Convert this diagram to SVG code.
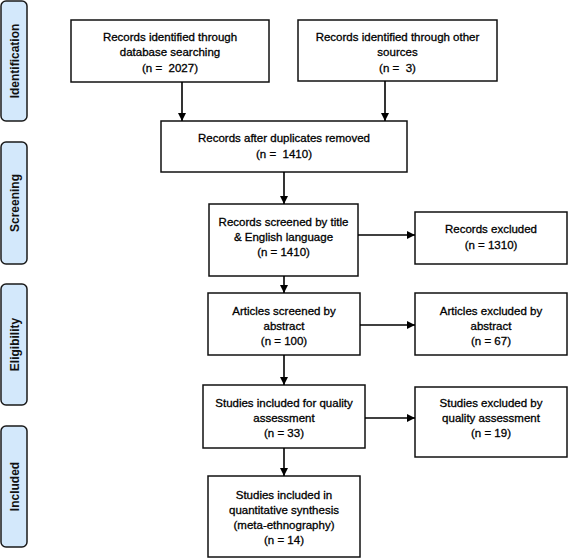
<svg xmlns="http://www.w3.org/2000/svg" width="568" height="558" viewBox="0 0 568 558">
<defs>
<marker id="ah" viewBox="0 0 10 10" refX="10" refY="5" markerWidth="5" markerHeight="5" orient="auto" markerUnits="strokeWidth">
<path d="M0,0 L10,5 L0,10 Z" fill="#000"/>
</marker>
<style>
.box{fill:#fff;stroke:#111;stroke-width:1.5}
.side{fill:#d3e8fb;stroke:#1a1a1a;stroke-width:1.5}
.t{font-family:"Liberation Sans",Arial,sans-serif;font-size:11.5px;fill:#000;stroke:#000;stroke-width:0.3;text-anchor:middle;white-space:pre}
.s{font-family:"Liberation Sans",Arial,sans-serif;font-size:12px;font-weight:bold;fill:#111;text-anchor:middle}
.c{stroke:#000;stroke-width:1.6;fill:none;marker-end:url(#ah)}
</style>
</defs>
<rect width="568" height="558" fill="#fff"/>
<g id="stage-identification"><rect class="side" x="1" y="1" width="26" height="120" rx="5"/><text class="s" transform="translate(18.5,61) rotate(-90)">Identification</text></g>
<g id="stage-screening"><rect class="side" x="1" y="142" width="26" height="122" rx="5"/><text class="s" transform="translate(18.5,203) rotate(-90)">Screening</text></g>
<g id="stage-eligibility"><rect class="side" x="1" y="284" width="26" height="121" rx="5"/><text class="s" transform="translate(18.5,344.5) rotate(-90)">Eligibility</text></g>
<g id="stage-included"><rect class="side" x="1" y="426" width="26" height="121" rx="5"/><text class="s" transform="translate(18.5,486.5) rotate(-90)">Included</text></g>

<g id="n-database"><rect class="box" x="71" y="20" width="198" height="62"/>
<text class="t" x="170" y="41">Records identified through</text><text class="t" x="170" y="56">database searching</text><text class="t" x="170" y="72">(n =  2027)</text></g>
<g id="n-other"><rect class="box" x="298" y="20" width="199" height="61"/>
<text class="t" x="397.5" y="41">Records identified through other</text><text class="t" x="397.5" y="56">sources</text><text class="t" x="397.5" y="72">(n =  3)</text></g>
<g id="n-dedup"><rect class="box" x="161" y="121" width="246" height="51"/>
<text class="t" x="284" y="142">Records after duplicates removed</text><text class="t" x="284" y="158">(n =  1410)</text></g>
<g id="n-screened"><rect class="box" x="209" y="204" width="149" height="72"/>
<text class="t" x="283.5" y="226">Records screened by title</text><text class="t" x="283.5" y="241">&amp; English language</text><text class="t" x="283.5" y="256">(n = 1410)</text></g>
<g id="n-rec-excluded"><rect class="box" x="415" y="212" width="152" height="52"/>
<text class="t" x="491" y="233">Records excluded</text><text class="t" x="491" y="249">(n = 1310)</text></g>
<g id="n-abstract"><rect class="box" x="208" y="293" width="152" height="62"/>
<text class="t" x="284" y="315">Articles screened by</text><text class="t" x="284" y="330">abstract</text><text class="t" x="284" y="345">(n = 100)</text></g>
<g id="n-abs-excluded"><rect class="box" x="415" y="293" width="152" height="62"/>
<text class="t" x="491" y="315">Articles excluded by</text><text class="t" x="491" y="330">abstract</text><text class="t" x="491" y="345">(n = 67)</text></g>
<g id="n-quality"><rect class="box" x="203" y="385" width="162" height="63"/>
<text class="t" x="284" y="407">Studies included for quality</text><text class="t" x="284" y="422">assessment</text><text class="t" x="284" y="437">(n = 33)</text></g>
<g id="n-qual-excluded"><rect class="box" x="415" y="387" width="152" height="70"/>
<text class="t" x="491" y="407">Studies excluded by</text><text class="t" x="491" y="422">quality assessment</text><text class="t" x="491" y="437">(n = 19)</text></g>
<g id="n-synthesis"><rect class="box" x="208" y="476" width="152" height="81"/>
<text class="t" x="284" y="499">Studies included in</text><text class="t" x="284" y="514">quantitative synthesis</text><text class="t" x="284" y="529">(meta-ethnography)</text><text class="t" x="284" y="544">(n = 14)</text></g>

<g id="connectors">
<line class="c" x1="182" y1="82" x2="182" y2="121"/>
<line class="c" x1="385" y1="81" x2="385" y2="121"/>
<line class="c" x1="284" y1="172" x2="284" y2="204"/>
<line class="c" x1="284" y1="276" x2="284" y2="293"/>
<line class="c" x1="284" y1="355" x2="284" y2="385"/>
<line class="c" x1="284" y1="448" x2="284" y2="476"/>
<line class="c" x1="358" y1="235" x2="415" y2="235"/>
<line class="c" x1="360" y1="325" x2="415" y2="325"/>
<line class="c" x1="365" y1="418" x2="415" y2="418"/>
</g>
</svg>
